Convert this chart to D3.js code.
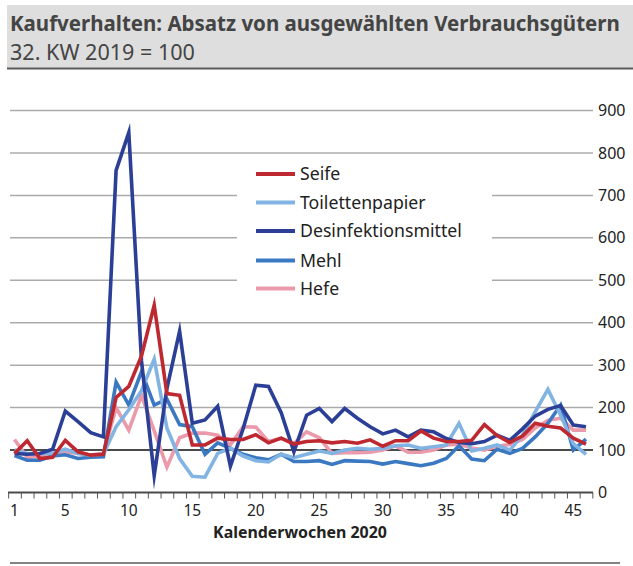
<!DOCTYPE html>
<html>
<head>
<meta charset="utf-8">
<script src="https://cdn.jsdelivr.net/npm/d3@7"></script>
<style>
  body { margin: 0; background: #fff; }
  text { font-family: "Noto Sans", "Open Sans", sans-serif; }
</style>
</head>
<body>
<div id="chart"></div>
<script>
var svgWidth = 633;
var svgHeight = 566;

// Data (Index, 32. KW 2019 = 100)
var weeks = d3.range(1, 47);
var seriesNames = ["Seife", "Toilettenpapier", "Desinfektionsmittel", "Mehl", "Hefe"];
var seriesColors = ["#be2830", "#82b4e3", "#2b3f97", "#3b78c2", "#eb9aab"];

var seife = [92, 122, 80, 83, 123, 96, 88, 90, 224, 250, 322, 441, 233, 229, 112, 112, 128, 125, 125, 136,
  117, 128, 114, 120, 122, 117, 120, 116, 124, 109, 122, 122, 145, 128, 120, 120, 123, 160, 134, 118,
  133, 163, 156, 152, 128, 114];
var toilettenpapier = [100, 92, 92, 92, 102, 92, 88, 90, 155, 195, 240, 314, 152, 80, 38, 36, 92, 104, 86, 75,
  72, 90, 82, 90, 98, 92, 100, 104, 102, 104, 110, 112, 104, 108, 112, 163, 98, 104, 112, 100,
  135, 190, 243, 182, 115, 90];
var desinfektionsmittel = [92, 90, 92, 102, 192, 167, 141, 131, 759, 848, 310, 40, 245, 380, 163, 171, 203, 62, 150, 253,
  250, 188, 96, 182, 198, 167, 198, 175, 155, 138, 147, 131, 147, 143, 127, 118, 115, 120, 135, 123,
  150, 180, 196, 205, 159, 155];
var mehl = [87, 76, 76, 86, 89, 80, 83, 84, 260, 206, 285, 206, 220, 160, 155, 90, 117, 104, 90, 82,
  77, 90, 73, 73, 75, 66, 75, 74, 73, 67, 73, 68, 63, 69, 80, 110, 79, 75, 102, 92,
  104, 131, 163, 206, 100, 126];
var hefe = [125, 83, 85, 90, 96, 92, 88, 92, 200, 147, 229, 145, 60, 129, 140, 140, 135, 112, 155, 154,
  120, 128, 115, 143, 129, 92, 94, 94, 95, 100, 110, 95, 95, 100, 112, 114, 105, 100, 109, 113,
  125, 152, 170, 175, 147, 147];

var yTicks = [0, 100, 200, 300, 400, 500, 600, 700, 800, 900];
var xTickLabels = [1, 5, 10, 15, 20, 25, 30, 35, 40, 45];

var seriesData = [seife, toilettenpapier, desinfektionsmittel, mehl, hefe];
var drawOrder = [4, 3, 1, 2, 0];

var svg = d3.select("#chart")
  .append("svg")
  .attr("width", svgWidth)
  .attr("height", svgHeight);

// fit a text element to a target width by scaling its font size
function fitText(sel, targetWidth) {
  var node = sel.node();
  var fs = parseFloat(sel.attr("font-size"));
  var w = node.getComputedTextLength();
  if (w > 0) sel.attr("font-size", (fs * targetWidth / w).toFixed(2));
}

// title band
svg.append("rect")
  .attr("x", 7).attr("y", 5)
  .attr("width", svgWidth - 7).attr("height", 63)
  .attr("fill", "#dedede");
svg.append("line")
  .attr("x1", 7).attr("x2", svgWidth)
  .attr("y1", 68.5).attr("y2", 68.5)
  .attr("stroke", "#5a5a5a").attr("stroke-width", 2);

var title = svg.append("text")
  .attr("x", 10).attr("y", 31)
  .attr("font-size", 20)
  .attr("font-weight", "bold")
  .attr("fill", "#444")
  .text("Kaufverhalten: Absatz von ausgewählten Verbrauchsgütern");
fitText(title, 610);

var subtitle = svg.append("text")
  .attr("x", 10).attr("y", 60)
  .attr("font-size", 18)
  .attr("fill", "#444")
  .text("32. KW 2019 = 100");
fitText(subtitle, 185);

// scales
var x = d3.scaleLinear().domain([1, 46]).range([14.5, 586]);
var y = d3.scaleLinear().domain([0, 900]).range([492.5, 110.5]);

// gridlines
svg.append("g")
  .selectAll("line")
  .data(yTicks.filter(d => d > 100))
  .enter()
  .append("line")
  .attr("x1", 10).attr("x2", 593)
  .attr("y1", d => y(d)).attr("y2", d => y(d))
  .attr("stroke", "#ababab")
  .attr("stroke-width", 1.5);

// reference line at 100
svg.append("line")
  .attr("x1", 10).attr("x2", 593)
  .attr("y1", y(100)).attr("y2", y(100))
  .attr("stroke", "#4a4a4a")
  .attr("stroke-width", 2);

// legend box (white, covers gridlines)
svg.append("rect")
  .attr("x", 237).attr("y", 160)
  .attr("width", 255).attr("height", 142)
  .attr("fill", "#fff");

// lines
var line = d3.line()
  .x((d, i) => x(weeks[i]))
  .y(d => y(d));

svg.append("g")
  .selectAll("path")
  .data(drawOrder)
  .enter()
  .append("path")
  .attr("d", i => line(seriesData[i]))
  .attr("fill", "none")
  .attr("stroke", i => seriesColors[i])
  .attr("stroke-width", 3.6)
  .attr("stroke-linejoin", "miter")
  .attr("stroke-miterlimit", 10);

// x axis
var xAxis = d3.axisBottom(x)
  .tickValues(d3.range(0.5, 47, 1))
  .tickSize(6)
  .tickFormat("");
var xAxisG = svg.append("g")
  .attr("transform", `translate(0, ${y(0)})`)
  .call(xAxis);
xAxisG.select(".domain").remove();
xAxisG.selectAll(".tick line").attr("stroke", "#555").attr("stroke-width", 1);
svg.append("line")
  .attr("x1", 8).attr("x2", 593)
  .attr("y1", y(0)).attr("y2", y(0))
  .attr("stroke", "#4a4a4a")
  .attr("stroke-width", 2);

svg.append("g")
  .selectAll("text")
  .data(xTickLabels)
  .enter()
  .append("text")
  .attr("x", d => x(d))
  .attr("y", 516)
  .attr("text-anchor", "middle")
  .attr("font-size", 15.5)
  .attr("fill", "#222")
  .text(d => d);

var xTitle = svg.append("text")
  .attr("x", 300).attr("y", 538)
  .attr("text-anchor", "middle")
  .attr("font-size", 15)
  .attr("font-weight", "bold")
  .attr("fill", "#222")
  .text("Kalenderwochen 2020");
fitText(xTitle, 174);

// y axis labels (right)
var yAxis = d3.axisRight(y)
  .tickValues(yTicks)
  .tickSize(0)
  .tickPadding(0);
var yAxisG = svg.append("g")
  .attr("transform", "translate(598, 0)")
  .call(yAxis);
yAxisG.select(".domain").remove();
yAxisG.selectAll("text")
  .attr("font-family", "\"Noto Sans\", sans-serif")
  .attr("font-size", 16)
  .attr("fill", "#222");

// legend
var legend = svg.append("g");
var legendY = [174, 202.5, 231, 260.5, 288.5];
seriesNames.forEach(function(name, i) {
  legend.append("line")
    .attr("x1", 256).attr("x2", 295)
    .attr("y1", legendY[i]).attr("y2", legendY[i])
    .attr("stroke", seriesColors[i])
    .attr("stroke-width", 4);
  var t = legend.append("text")
    .attr("x", 300)
    .attr("y", legendY[i])
    .attr("dy", "0.35em")
    .attr("font-size", 16)
    .attr("fill", "#222")
    .text(name);
  if (name === "Desinfektionsmittel") fitText(t, 162);
});
var fs = legend.selectAll("text").filter(function() { return d3.select(this).text() === "Desinfektionsmittel"; }).attr("font-size");
legend.selectAll("text").attr("font-size", fs);

// bottom rule
svg.append("line")
  .attr("x1", 10).attr("x2", 620)
  .attr("y1", 563).attr("y2", 563)
  .attr("stroke", "#5a5a5a")
  .attr("stroke-width", 1.5);
</script>
</body>
</html>
